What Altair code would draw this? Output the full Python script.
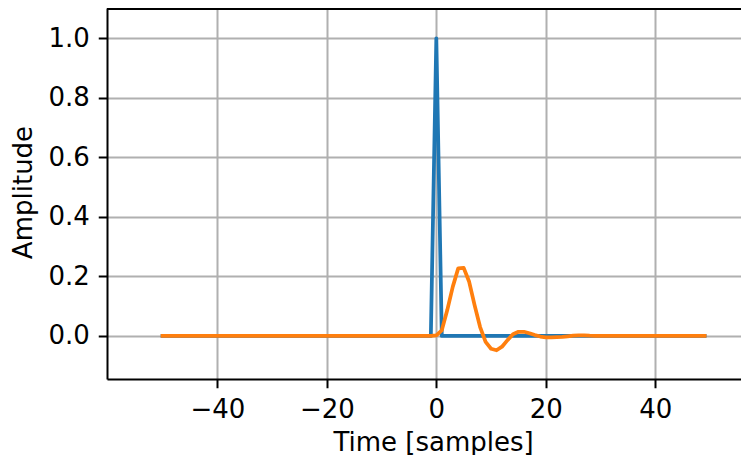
import altair as alt
import pandas as pd

# Time axis (samples)
t = list(range(-50, 50))

# Blue: unit impulse at t = 0
impulse = [0.0] * 50 + [1.0] + [0.0] * 49

# Orange: filtered impulse response
response = [0.0] * 50 + [
    0.002, 0.019, 0.087, 0.165, 0.227, 0.229, 0.182, 0.103, 0.030, -0.020,
    -0.043, -0.048, -0.036, -0.014, 0.006, 0.014, 0.014, 0.009, 0.003, -0.002,
    -0.005, -0.005, -0.004, -0.003, -0.001, 0.001, 0.002, 0.002, 0.001, 0.0005,
] + [0.0] * 20

x_ticks = [-40, -20, 0, 20, 40]
y_ticks = [0.0, 0.2, 0.4, 0.6, 0.8, 1.0]

df = pd.DataFrame({"t": t, "impulse": impulse, "response": response})

W, H = 634, 371
FONT = "DejaVu Sans"

xscale = alt.Scale(domain=[-60.15, 55.65], nice=False, zero=False)
yscale = alt.Scale(domain=[-0.1446, 1.102], nice=False, zero=False)

xenc = alt.X(
    "t:Q", scale=xscale,
    axis=alt.Axis(values=x_ticks, title="Time [samples]", format="d",
                  titleX=326, titleY=71, titleBaseline="alphabetic"),
)

blue = alt.Chart(df).mark_line(
    color="#1f77b4", strokeWidth=3.75, strokeJoin="round", strokeCap="square", clip=True
).encode(
    x=xenc,
    y=alt.Y("impulse:Q", scale=yscale,
            axis=alt.Axis(values=y_ticks, format=".1f", title="Amplitude",
                          titleX=-76, titleY=184, titleBaseline="alphabetic",
                          titleAngle=-90)),
)

orange = alt.Chart(df).mark_line(
    color="#ff7f0e", strokeWidth=3.75, strokeJoin="round", strokeCap="square", clip=True
).encode(
    x=alt.X("t:Q", scale=xscale),
    y=alt.Y("response:Q", scale=yscale),
)

top_rule = alt.Chart(df).mark_rule(color="black", strokeWidth=2).encode(
    x=alt.value(0), x2=alt.value(W), y=alt.value(1)
)

chart = alt.layer(blue, orange, top_rule).properties(
    width=W, height=H,
    autosize=alt.AutoSizeParams(type="none"),
    padding={"left": 99, "top": 0, "right": 0, "bottom": 76},
).configure_view(stroke=None).configure_axis(
    labelFont=FONT, titleFont=FONT, labelFontSize=26, titleFontSize=26,
    labelColor="black", titleColor="black", titleFontWeight="normal",
    domainColor="black", domainWidth=2, tickColor="black", tickWidth=2, tickSize=8.75,
    gridColor="#b0b0b0", gridWidth=2, gridOpacity=1, labelPadding=9,
).configure_axisX(labelPadding=9, labelFlush=False)

chart.save("out.html", embed_options={"renderer": "svg", "actions": False})
